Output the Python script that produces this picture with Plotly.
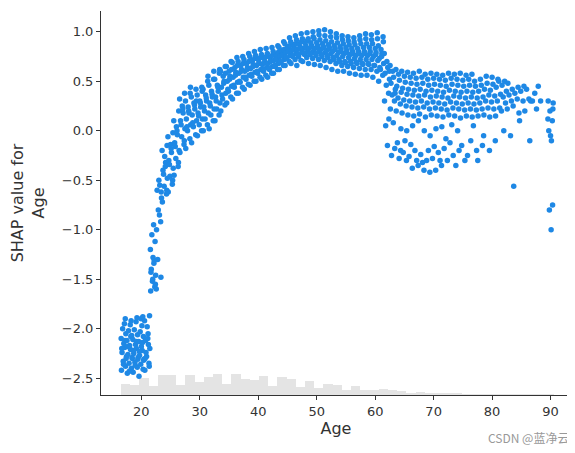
import plotly.graph_objects as go

# SHAP values, grouped by (approximate) age
ages = [17, 18, 19, 20, 21, 22, 23, 24, 25, 26, 27, 28, 29, 30, 31, 32, 33, 34, 35, 36, 37, 38, 39, 40,
        41, 42, 43, 44, 45, 46, 47, 48, 49, 50, 51, 52, 53, 54, 55, 56, 57, 58, 59, 60, 61, 62, 63, 64,
        65, 66, 67, 68, 69, 70, 71, 72, 73, 74, 75, 76, 77, 78, 79, 80, 81, 82, 83, 84, 85, 86, 87, 88, 90]
shap_by_age = [
    [-2.42, -2.38, -2.33, -2.28, -2.24, -2.19, -2.15, -2.1, -2.05, -2.0, -1.95, -2.3, -2.2, -2.12, -2.36, -1.9],
    [-2.45, -2.4, -2.35, -2.3, -2.26, -2.21, -2.17, -2.12, -2.07, -2.02, -1.96, -2.29, -2.18, -2.08, -2.43, -1.92],
    [-2.44, -2.39, -2.34, -2.29, -2.25, -2.2, -2.16, -2.11, -2.06, -2.01, -1.93, -2.31, -2.22, -2.13, -2.37, -1.89],
    [-2.48, -2.41, -2.36, -2.31, -2.27, -2.22, -2.18, -2.13, -2.08, -2.03, -1.97, -2.32, -2.23, -2.14, -1.9, -1.88],
    [-2.42, -2.35, -2.28, -2.2, -2.12, -2.05, -1.98, -1.92, -2.38, -2.24, -2.1, -1.87, -2.3, -2.16],
    [-1.62, -1.58, -1.52, -1.46, -1.4, -1.34, -1.28, -1.2, -1.12, -1.05, -0.95, -1.55, -1.43, -1.31, -1.5],
    [-1.0, -0.92, -0.8, -0.68, -0.6, -0.55, -0.5, -1.6, -1.48, -1.3, -0.85, -0.62],
    [-0.72, -0.64, -0.56, -0.48, -0.4, -0.32, -0.26, -0.2, -0.6, -0.44, -0.36, -0.15],
    [-0.62, -0.54, -0.46, -0.38, -0.3, -0.22, -0.14, -0.06, -0.5, -0.34, -0.18, -0.02],
    [-0.45, -0.36, -0.28, -0.2, -0.12, -0.04, 0.04, 0.1, -0.32, -0.16, 0.0, 0.2],
    [-0.22, -0.14, -0.06, 0.02, 0.1, 0.18, 0.25, 0.32, -0.1, 0.06, 0.22, 0.38],
    [-0.18, -0.08, 0.0, 0.06, 0.12, 0.18, 0.24, 0.3, 0.38, 0.04, 0.2, 0.44],
    [-0.12, -0.04, 0.04, 0.1, 0.16, 0.22, 0.28, 0.34, 0.42, 0.08, 0.26, 0.3],
    [-0.05, 0.0, 0.06, 0.12, 0.18, 0.24, 0.3, 0.36, 0.44, 0.15, 0.28, 0.4],
    [0.0, 0.06, 0.12, 0.18, 0.24, 0.3, 0.36, 0.42, 0.5, 0.2, 0.33, 0.55],
    [0.02, 0.1, 0.16, 0.22, 0.28, 0.34, 0.4, 0.46, 0.52, 0.25, 0.37, 0.6],
    [0.1, 0.16, 0.22, 0.28, 0.34, 0.4, 0.46, 0.52, 0.58, 0.3, 0.44, 0.62],
    [0.2, 0.26, 0.32, 0.38, 0.44, 0.5, 0.55, 0.6, 0.65, 0.36, 0.48, 0.58],
    [0.28, 0.34, 0.4, 0.45, 0.5, 0.55, 0.6, 0.65, 0.7, 0.42, 0.52, 0.62],
    [0.32, 0.38, 0.44, 0.49, 0.54, 0.59, 0.64, 0.69, 0.74, 0.46, 0.56, 0.66],
    [0.38, 0.44, 0.49, 0.54, 0.58, 0.62, 0.66, 0.7, 0.75, 0.5, 0.6, 0.68],
    [0.42, 0.47, 0.52, 0.56, 0.6, 0.64, 0.68, 0.72, 0.78, 0.54, 0.62, 0.7],
    [0.46, 0.5, 0.55, 0.59, 0.63, 0.67, 0.71, 0.75, 0.8, 0.57, 0.65, 0.73],
    [0.5, 0.54, 0.58, 0.62, 0.66, 0.69, 0.72, 0.76, 0.82, 0.6, 0.68, 0.74],
    [0.52, 0.56, 0.6, 0.64, 0.67, 0.7, 0.73, 0.77, 0.83, 0.62, 0.69, 0.75],
    [0.54, 0.58, 0.62, 0.65, 0.68, 0.71, 0.74, 0.78, 0.84, 0.63, 0.7, 0.76],
    [0.58, 0.62, 0.65, 0.68, 0.71, 0.74, 0.77, 0.8, 0.86, 0.66, 0.72, 0.79],
    [0.62, 0.66, 0.69, 0.72, 0.75, 0.78, 0.81, 0.84, 0.9, 0.7, 0.76, 0.82],
    [0.66, 0.7, 0.73, 0.76, 0.79, 0.82, 0.85, 0.88, 0.94, 0.74, 0.8, 0.86],
    [0.68, 0.72, 0.75, 0.78, 0.81, 0.84, 0.87, 0.9, 0.96, 0.76, 0.82, 0.88],
    [0.66, 0.71, 0.75, 0.79, 0.82, 0.85, 0.88, 0.92, 0.98, 0.77, 0.83, 0.9],
    [0.7, 0.74, 0.77, 0.8, 0.83, 0.86, 0.89, 0.93, 0.99, 0.78, 0.84, 0.91],
    [0.68, 0.73, 0.77, 0.8, 0.83, 0.86, 0.89, 0.93, 1.0, 0.78, 0.85, 0.95],
    [0.67, 0.72, 0.76, 0.8, 0.83, 0.86, 0.89, 0.93, 1.01, 0.78, 0.84, 0.97],
    [0.66, 0.71, 0.75, 0.79, 0.82, 0.85, 0.88, 0.92, 1.02, 0.77, 0.84, 0.96],
    [0.64, 0.7, 0.74, 0.78, 0.81, 0.84, 0.87, 0.91, 1.0, 0.76, 0.83, 0.95],
    [0.62, 0.68, 0.72, 0.76, 0.8, 0.83, 0.86, 0.9, 0.98, 0.74, 0.82, 0.94],
    [0.6, 0.66, 0.7, 0.75, 0.79, 0.82, 0.85, 0.89, 0.96, 0.72, 0.8, 0.92],
    [0.6, 0.65, 0.69, 0.74, 0.78, 0.81, 0.84, 0.88, 0.95, 0.7, 0.79, 0.91],
    [0.58, 0.64, 0.68, 0.73, 0.77, 0.8, 0.83, 0.87, 0.94, 0.7, 0.78, 0.9],
    [0.57, 0.63, 0.68, 0.72, 0.76, 0.8, 0.83, 0.87, 0.96, 0.69, 0.78, 0.92],
    [0.56, 0.62, 0.67, 0.72, 0.76, 0.8, 0.84, 0.88, 0.98, 0.68, 0.78, 0.93],
    [0.56, 0.62, 0.67, 0.72, 0.76, 0.8, 0.84, 0.88, 0.97, 0.68, 0.78, 0.92],
    [0.54, 0.6, 0.66, 0.71, 0.75, 0.79, 0.83, 0.88, 0.99, 0.66, 0.77, 0.93],
    [0.5, 0.56, 0.62, 0.68, 0.73, 0.78, 0.82, 0.86, 0.95, 0.64, 0.75, 0.9],
    [0.3, 0.38, 0.46, 0.52, 0.58, 0.64, 0.7, 0.78, 0.12, 0.05, -0.15, 0.6],
    [0.22, 0.3, 0.36, 0.42, 0.48, 0.54, 0.6, 0.66, -0.18, -0.25, 0.08, 0.38],
    [0.2, 0.27, 0.33, 0.39, 0.45, 0.51, 0.57, 0.62, -0.2, -0.12, -0.28, 0.02],
    [0.18, 0.25, 0.31, 0.37, 0.43, 0.49, 0.55, 0.6, -0.3, -0.22, -0.1, 0.0],
    [0.16, 0.24, 0.3, 0.36, 0.42, 0.48, 0.54, 0.59, -0.38, -0.26, -0.14, 0.05],
    [0.15, 0.23, 0.29, 0.35, 0.41, 0.47, 0.53, 0.58, -0.35, -0.2, -0.3, 0.1],
    [0.17, 0.24, 0.3, 0.36, 0.42, 0.48, 0.54, 0.6, -0.4, -0.24, -0.32, 0.0],
    [0.14, 0.22, 0.28, 0.34, 0.4, 0.46, 0.52, 0.57, -0.42, -0.3, -0.2, -0.05],
    [0.16, 0.23, 0.29, 0.35, 0.41, 0.47, 0.53, 0.58, -0.4, -0.28, -0.16, 0.02],
    [0.15, 0.22, 0.28, 0.34, 0.4, 0.46, 0.52, 0.57, -0.35, -0.22, -0.3, 0.04],
    [0.14, 0.21, 0.27, 0.33, 0.39, 0.45, 0.51, 0.56, -0.3, -0.18, -0.08],
    [0.16, 0.23, 0.29, 0.35, 0.41, 0.47, 0.53, 0.58, -0.25, -0.12, 0.06],
    [0.15, 0.22, 0.28, 0.34, 0.4, 0.46, 0.52, 0.57, -0.2, -0.35, 0.0],
    [0.13, 0.21, 0.27, 0.33, 0.39, 0.45, 0.51, 0.58, -0.3, -0.15],
    [0.15, 0.22, 0.28, 0.34, 0.4, 0.46, 0.52, 0.56, -0.1, -0.25],
    [0.14, 0.21, 0.27, 0.33, 0.39, 0.45, 0.5, 0.57, -0.2, 0.05],
    [0.15, 0.22, 0.28, 0.34, 0.4, 0.46, 0.52, -0.3, -0.15],
    [0.16, 0.23, 0.3, 0.36, 0.42, 0.48, 0.55, -0.05],
    [0.14, 0.22, 0.29, 0.35, 0.41, 0.47, 0.54, -0.2],
    [0.15, 0.23, 0.3, 0.37, 0.44, 0.5, 0.52, -0.1],
    [0.2, 0.28, 0.34, 0.4, 0.46, 0.5, 0.0],
    [0.22, 0.3, 0.36, 0.42, 0.48, -0.05],
    [0.25, 0.32, 0.38, 0.44, -0.56],
    [0.18, 0.3, 0.4, 0.45, 0.1],
    [0.2, 0.32, 0.42, -0.1],
    [0.3, 0.38, 0.3],
    [0.22, 0.3, 0.45],
    [0.3, 0.1, 0.2, 0.28, 0.0, -0.1, -0.05, 0.12, -0.75, -0.8, -1.0, 0.22],
]
# small fixed offsets spreading points within each age
jitter = [-0.4, 0.3, -0.1, 0.45, -0.3, 0.15, 0.0, -0.45, 0.35, -0.2, 0.1, 0.4, -0.35, 0.2, -0.05, 0.25]

# age histogram (counts per bin)
hist_left = [16.5 + 1.575 * i for i in range(47)]
hist_counts = [11, 10, 17, 9, 20, 20, 10, 20, 13, 18, 21, 11, 21, 16, 15, 19, 9, 18, 16, 8, 14, 7,
               11, 10, 5, 9, 5, 5, 6, 5, 4, 2, 3, 2, 2, 1.5, 1.2, 1, 0.8, 0.6, 0.5, 0.5, 0.4, 0.3, 0.3, 0.2, 0.2]

xs, ys = [], []
for a, vals in zip(ages, shap_by_age):
    for k, v in enumerate(vals):
        xs.append(a + jitter[k % len(jitter)])
        ys.append(v)

y_bottom = -2.67
fig = go.Figure()
fig.add_trace(go.Bar(
    x=[l + 0.7875 for l in hist_left], y=[c * 0.0101 for c in hist_counts], base=y_bottom,
    width=1.575, marker=dict(color="#e0e0e0", line_width=0), opacity=0.85,
))
fig.add_trace(go.Scatter(
    x=xs, y=ys, mode="markers",
    marker=dict(color="#1E88E5", size=5.5, line_width=0),
))

axis_common = dict(showgrid=False, zeroline=False, showline=True, linecolor="#333", linewidth=1,
                   ticks="outside", ticklen=4, tickcolor="#333",
                   tickfont=dict(family="DejaVu Sans", size=13, color="#333"))
fig.update_xaxes(range=[13.1, 93.5], tickvals=[20, 30, 40, 50, 60, 70, 80, 90],
                 title=dict(text="Age", font=dict(family="DejaVu Sans", size=16, color="#333"), standoff=4),
                 **axis_common)
fig.update_yaxes(range=[y_bottom, 1.21], tickvals=[1.0, 0.5, 0.0, -0.5, -1.0, -1.5, -2.0, -2.5],
                 tickformat=".1f",
                 title=dict(text="SHAP value for<br>Age", font=dict(family="DejaVu Sans", size=16, color="#333")),
                 **axis_common)
fig.add_annotation(text="CSDN @蓝净云", xref="paper", yref="paper", x=1.0, y=-0.11,
                   xanchor="right", yanchor="middle", showarrow=False,
                   font=dict(family="Noto Sans CJK SC", size=12, color="#999"))
fig.update_layout(width=575, height=453, showlegend=False, plot_bgcolor="white", paper_bgcolor="white",
                  margin=dict(l=93, r=12, t=3, b=66), bargap=0)
fig.write_html("out.html")
